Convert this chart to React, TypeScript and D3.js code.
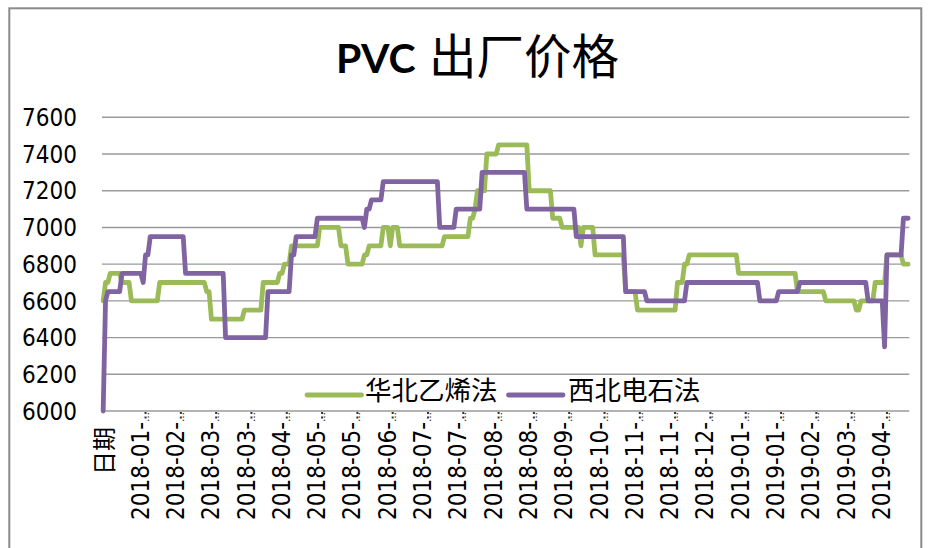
import React from 'react';
import * as d3 from 'd3';

// Category axis tick labels (every 15th category; first category is the header "日期")
const tickLabels: string[] = [
  '日期', '2018-01', '2018-02', '2018-03', '2018-03', '2018-04', '2018-05', '2018-05',
  '2018-06', '2018-07', '2018-07', '2018-08', '2018-08', '2018-09', '2018-10', '2018-11',
  '2018-11', '2018-12', '2019-01', '2019-01', '2019-02', '2019-03', '2019-04',
];

const yTicks: number[] = [6000, 6200, 6400, 6600, 6800, 7000, 7200, 7400, 7600];

const seriesNames: string[] = ['华北乙烯法', '西北电石法'];

// Daily prices as runs: [price, number of consecutive days]
const greenRuns: [number, number][] = [
  [6600, 1], [6700, 2], [6750, 5], [6700, 4], [6600, 12], [6700, 20], [6650, 2], [6500, 14],
  [6550, 8], [6700, 7], [6750, 2], [6800, 3], [6900, 12], [7000, 9], [6900, 3], [6800, 7],
  [6850, 2], [6900, 6], [7000, 3], [6900, 1], [7000, 3], [6900, 19], [6950, 11], [7050, 2],
  [7100, 1], [7200, 4], [7400, 5], [7450, 13], [7200, 10], [7050, 4], [7000, 8], [6900, 1],
  [7000, 5], [6850, 13], [6650, 5], [6550, 17], [6700, 3], [6800, 2], [6850, 21], [6750, 25],
  [6650, 12], [6600, 13], [6550, 2], [6600, 6], [6700, 5], [6850, 7], [6800, 3],
];

const purpleRuns: [number, number][] = [
  [6000, 1], [6600, 1], [6650, 6], [6750, 9], [6700, 1], [6850, 2], [6950, 15], [6750, 17],
  [6400, 18], [6650, 10], [6850, 2], [6950, 9], [7050, 20], [7000, 1], [7100, 2], [7150, 5],
  [7250, 24], [7000, 7], [7100, 11], [7300, 19], [7100, 21], [6950, 21], [6650, 9], [6600, 17],
  [6700, 31], [6600, 8], [6650, 9], [6700, 29], [6600, 7], [6350, 1], [6850, 7], [7050, 3],
];

const expandRuns = (runs: [number, number][]): number[] => {
  const out: number[] = [];
  runs.forEach(([v, n]) => {
    for (let i = 0; i < n; i++) out.push(v);
  });
  return out;
};

const green = expandRuns(greenRuns);
const purple = expandRuns(purpleRuns);

const GREEN = '#9BBB59';
const PURPLE = '#8064A2';
const GRID = '#9a9a9a';
const NUM_FONT = "'DejaVu Sans Condensed', 'Liberation Sans', Arial, sans-serif";
const CJK_FONT = "'Noto Sans CJK SC', 'Noto Sans', sans-serif";

export default function App() {
  const W = 929;
  const H = 548;
  const plotL = 102;
  const plotR = 909.3;
  const plotT = 117.3;
  const plotB = 411;
  const n = Math.max(green.length, purple.length);
  const LABEL_EVERY = 15;

  const xBand = d3.scaleBand<number>().domain(d3.range(n)).range([plotL, plotR]).padding(0);
  const bw = xBand.bandwidth();
  const xc = (i: number) => (xBand(i) as number) + bw / 2;
  const y = d3.scaleLinear().domain([6000, 7600]).range([plotB, plotT]);

  const line = d3
    .line<number>()
    .x((_, i) => xc(i))
    .y((d) => y(d));

  const labelIdx = d3.range(0, n, LABEL_EVERY).slice(0, tickLabels.length);
  const tickIdx = d3.range(18, n, LABEL_EVERY);

  return (
    <svg
      width={W}
      height={H}
      style={{ position: 'absolute', left: 0, top: 0, background: '#fff' }}
    >
      <rect x={0} y={0} width={W} height={H} fill="#fff" />
      <rect x={9.3} y={8.3} width={912} height={600} fill="none" stroke="#8a8a8a" strokeWidth={2} />

      {/* title */}
      <text x={336} y={73} fontFamily="Lato, 'Open Sans', sans-serif" fontWeight="bold" fontSize={41} fill="#000">
        PVC
      </text>
      <text x={429} y={74} fontFamily={CJK_FONT} fontSize={47.5} fill="#000">
        出厂价格
      </text>

      {/* gridlines */}
      {yTicks.map((t) => (
        <line key={t} x1={plotL} x2={plotR} y1={y(t)} y2={y(t)} stroke={GRID} strokeWidth={1.4} />
      ))}

      {/* y labels */}
      {yTicks.map((t) => (
        <text
          key={'yl' + t}
          x={77}
          y={y(t)}
          dy="0.36em"
          textAnchor="end"
          fontFamily={NUM_FONT}
          fontSize={24}
          fill="#000"
        >
          {t}
        </text>
      ))}

      {/* x ticks (dotted) */}
      {tickIdx.map((i) => (
        <line
          key={'tk' + i}
          x1={xc(i)}
          x2={xc(i)}
          y1={plotB + 1}
          y2={plotB + 8}
          stroke="#333"
          strokeWidth={2}
          strokeDasharray="2,2.5"
        />
      ))}

      {/* x labels */}
      {labelIdx.map((i, k) => {
        const lab = tickLabels[k];
        const isHeader = k === 0;
        return (
          <text
            key={'xl' + i}
            transform={`translate(${xc(i) + 1.5},${isHeader ? 427 : 412}) rotate(-90)`}
            textAnchor="end"
            dy="0.36em"
            fontFamily={isHeader ? CJK_FONT : NUM_FONT}
            fontSize={24}
            fill="#000"
          >
            {isHeader ? (
              lab
            ) : (
              <>
                {lab + '-'}
                <tspan fontSize={11}>…</tspan>
              </>
            )}
          </text>
        );
      })}

      {/* series */}
      <path
        d={line(green) || ''}
        fill="none"
        stroke={GREEN}
        strokeWidth={4.8}
        strokeLinejoin="round"
        strokeLinecap="round"
      />
      <path
        d={line(purple) || ''}
        fill="none"
        stroke={PURPLE}
        strokeWidth={4.8}
        strokeLinejoin="round"
        strokeLinecap="round"
      />

      {/* legend */}
      <line x1={307} x2={361.5} y1={395} y2={395} stroke={GREEN} strokeWidth={4.8} strokeLinecap="round" />
      <text x={365} y={400} fontFamily={CJK_FONT} fontSize={26.5} fill="#000">
        {seriesNames[0]}
      </text>
      <line x1={508.5} x2={563} y1={395} y2={395} stroke={PURPLE} strokeWidth={4.8} strokeLinecap="round" />
      <text x={568} y={400} fontFamily={CJK_FONT} fontSize={26.5} fill="#000">
        {seriesNames[1]}
      </text>
    </svg>
  );
}
